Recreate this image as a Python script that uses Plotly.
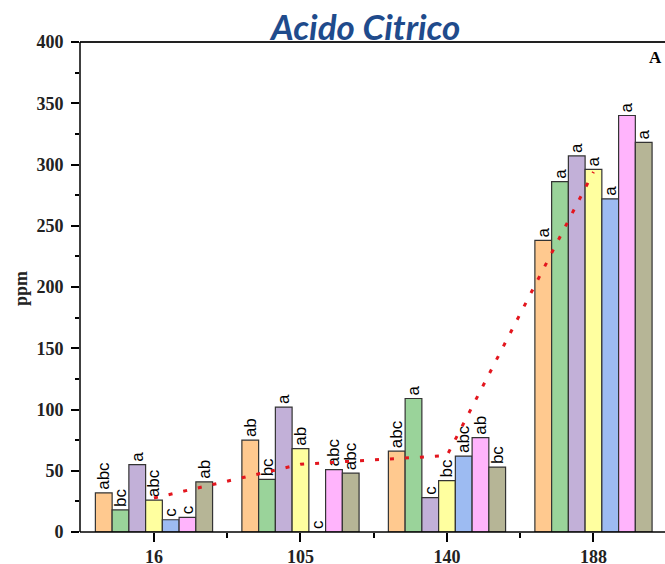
import numpy as np
import plotly.graph_objects as go

# Sampling days on the x axis
days = ["16", "105", "140", "188"]

# Citric acid concentration (ppm) for each treatment, one value per sampling day
t1 = [32, 75, 66, 238]
t2 = [18, 43, 109, 286]
t3 = [55, 102, 28, 307]
t4 = [26, 68, 42, 296]
t5 = [10, 0, 62, 272]
t6 = [12, 51, 77, 340]
t7 = [41, 48, 53, 318]

# Significance letters per treatment and day
l1 = ["abc", "ab", "abc", "a"]
l2 = ["bc", "bc", "a", "a"]
l3 = ["a", "a", "c", "a"]
l4 = ["abc", "ab", "bc", "a"]
l5 = ["c", "c", "abc", "a"]
l6 = ["c", "abc", "ab", "a"]
l7 = ["ab", "abc", "bc", "a"]

series = [t1, t2, t3, t4, t5, t6, t7]
letters = [l1, l2, l3, l4, l5, l6, l7]
colors = ["#FFC98F", "#9AD39A", "#C2B0D8", "#FFFF9F", "#9DBBF2", "#FFB4FC", "#B6B596"]

x = list(range(len(days)))
means = np.mean(np.array(series), axis=0)

W, H = 665, 564
L, R, T, B = 80, 0, 42, 32
pw, ph = W - L - R, H - T - B

serif = "Liberation Serif"
fig = go.Figure()

for vals, labs, col in zip(series, letters, colors):
    fig.add_trace(go.Bar(
        x=x, y=vals, text=labs,
        textposition="outside", textangle=-90, constraintext="none",
        cliponaxis=False,
        textfont=dict(family="Liberation Sans, Arial", size=17, color="black"),
        marker=dict(color=col, line=dict(color="#333333", width=1.2)),
        showlegend=False,
    ))

# Average trend across treatments
fig.add_trace(go.Scatter(
    x=x, y=means, mode="lines",
    line=dict(color="#E3161E", width=3, dash="4px,11px"),
    showlegend=False,
))

fig.update_layout(
    template="none",
    width=W, height=H,
    margin=dict(l=L, r=R, t=T, b=B, autoexpand=False),
    paper_bgcolor="white", plot_bgcolor="white",
    barmode="group", bargap=0.2, bargroupgap=0,
    xaxis=dict(
        range=[-0.505, -0.505 + pw / 146.5],
        tickmode="array", tickvals=x, ticktext=days,
        ticks="outside", ticklen=9, tickwidth=1.5, tickcolor="black",
        minor=dict(tickvals=[0.5, 1.5, 2.5], ticks="outside", ticklen=5,
                   tickwidth=1.5, tickcolor="black", showgrid=False),
        showline=False, mirror=False,
        showgrid=False, zeroline=False, automargin=False,
        tickfont=dict(family=serif, size=18, color="#222222", weight="bold"),
        ticklabelstandoff=-1,
    ),
    yaxis=dict(
        range=[0, 400], dtick=50,
        ticks="outside", ticklen=8, tickwidth=1.5, tickcolor="black",
        minor=dict(dtick=25, ticks="outside", ticklen=4, tickwidth=1.5,
                   tickcolor="black", showgrid=False),
        showline=False, mirror=False,
        showgrid=False, zeroline=False, automargin=False,
        tickfont=dict(family=serif, size=18, color="#222222", weight="bold"),
        ticklabelstandoff=4,
    ),
    shapes=[
        # keep the open right side of the frame clean
        dict(type="rect", xref="paper", yref="paper",
             x0=1 - 3 / pw, x1=1 + 2 / pw, y0=-0.5 / ph, y1=1 - 1 / ph,
             fillcolor="white", line=dict(width=0), layer="above"),
        # frame: top line across to the right edge, bottom axis and left axis
        dict(type="line", xref="paper", yref="paper", x0=0, x1=1,
             y0=1, y1=1, line=dict(color="#222222", width=2)),
        dict(type="line", xref="paper", yref="paper", x0=0, x1=1,
             y0=0, y1=0, line=dict(color="black", width=1.5)),
        dict(type="line", xref="paper", yref="paper", x0=0, x1=0,
             y0=0, y1=1, line=dict(color="black", width=1.5)),
    ],
    annotations=[
        dict(text="<b><i>Acido Citrico</i></b>",
             x=(364 - L) / pw, y=(H - B - 26) / ph,
             xref="paper", yref="paper", showarrow=False,
             xanchor="center", yanchor="middle",
             font=dict(family="Lato", size=35, color="#1F4B8C")),
        dict(text="<b>ppm</b>", textangle=-90,
             x=(21 - L) / pw, y=(H - B - 289) / ph,
             xref="paper", yref="paper", showarrow=False,
             xanchor="center", yanchor="middle",
             font=dict(family=serif, size=18, color="#222222")),
        dict(text="<b>A</b>", x=(655 - L) / pw, y=(H - B - 58) / ph,
             xref="paper", yref="paper", showarrow=False,
             xanchor="center", yanchor="middle",
             font=dict(family=serif, size=17, color="black")),
    ],
)

fig.write_html("out.html")
